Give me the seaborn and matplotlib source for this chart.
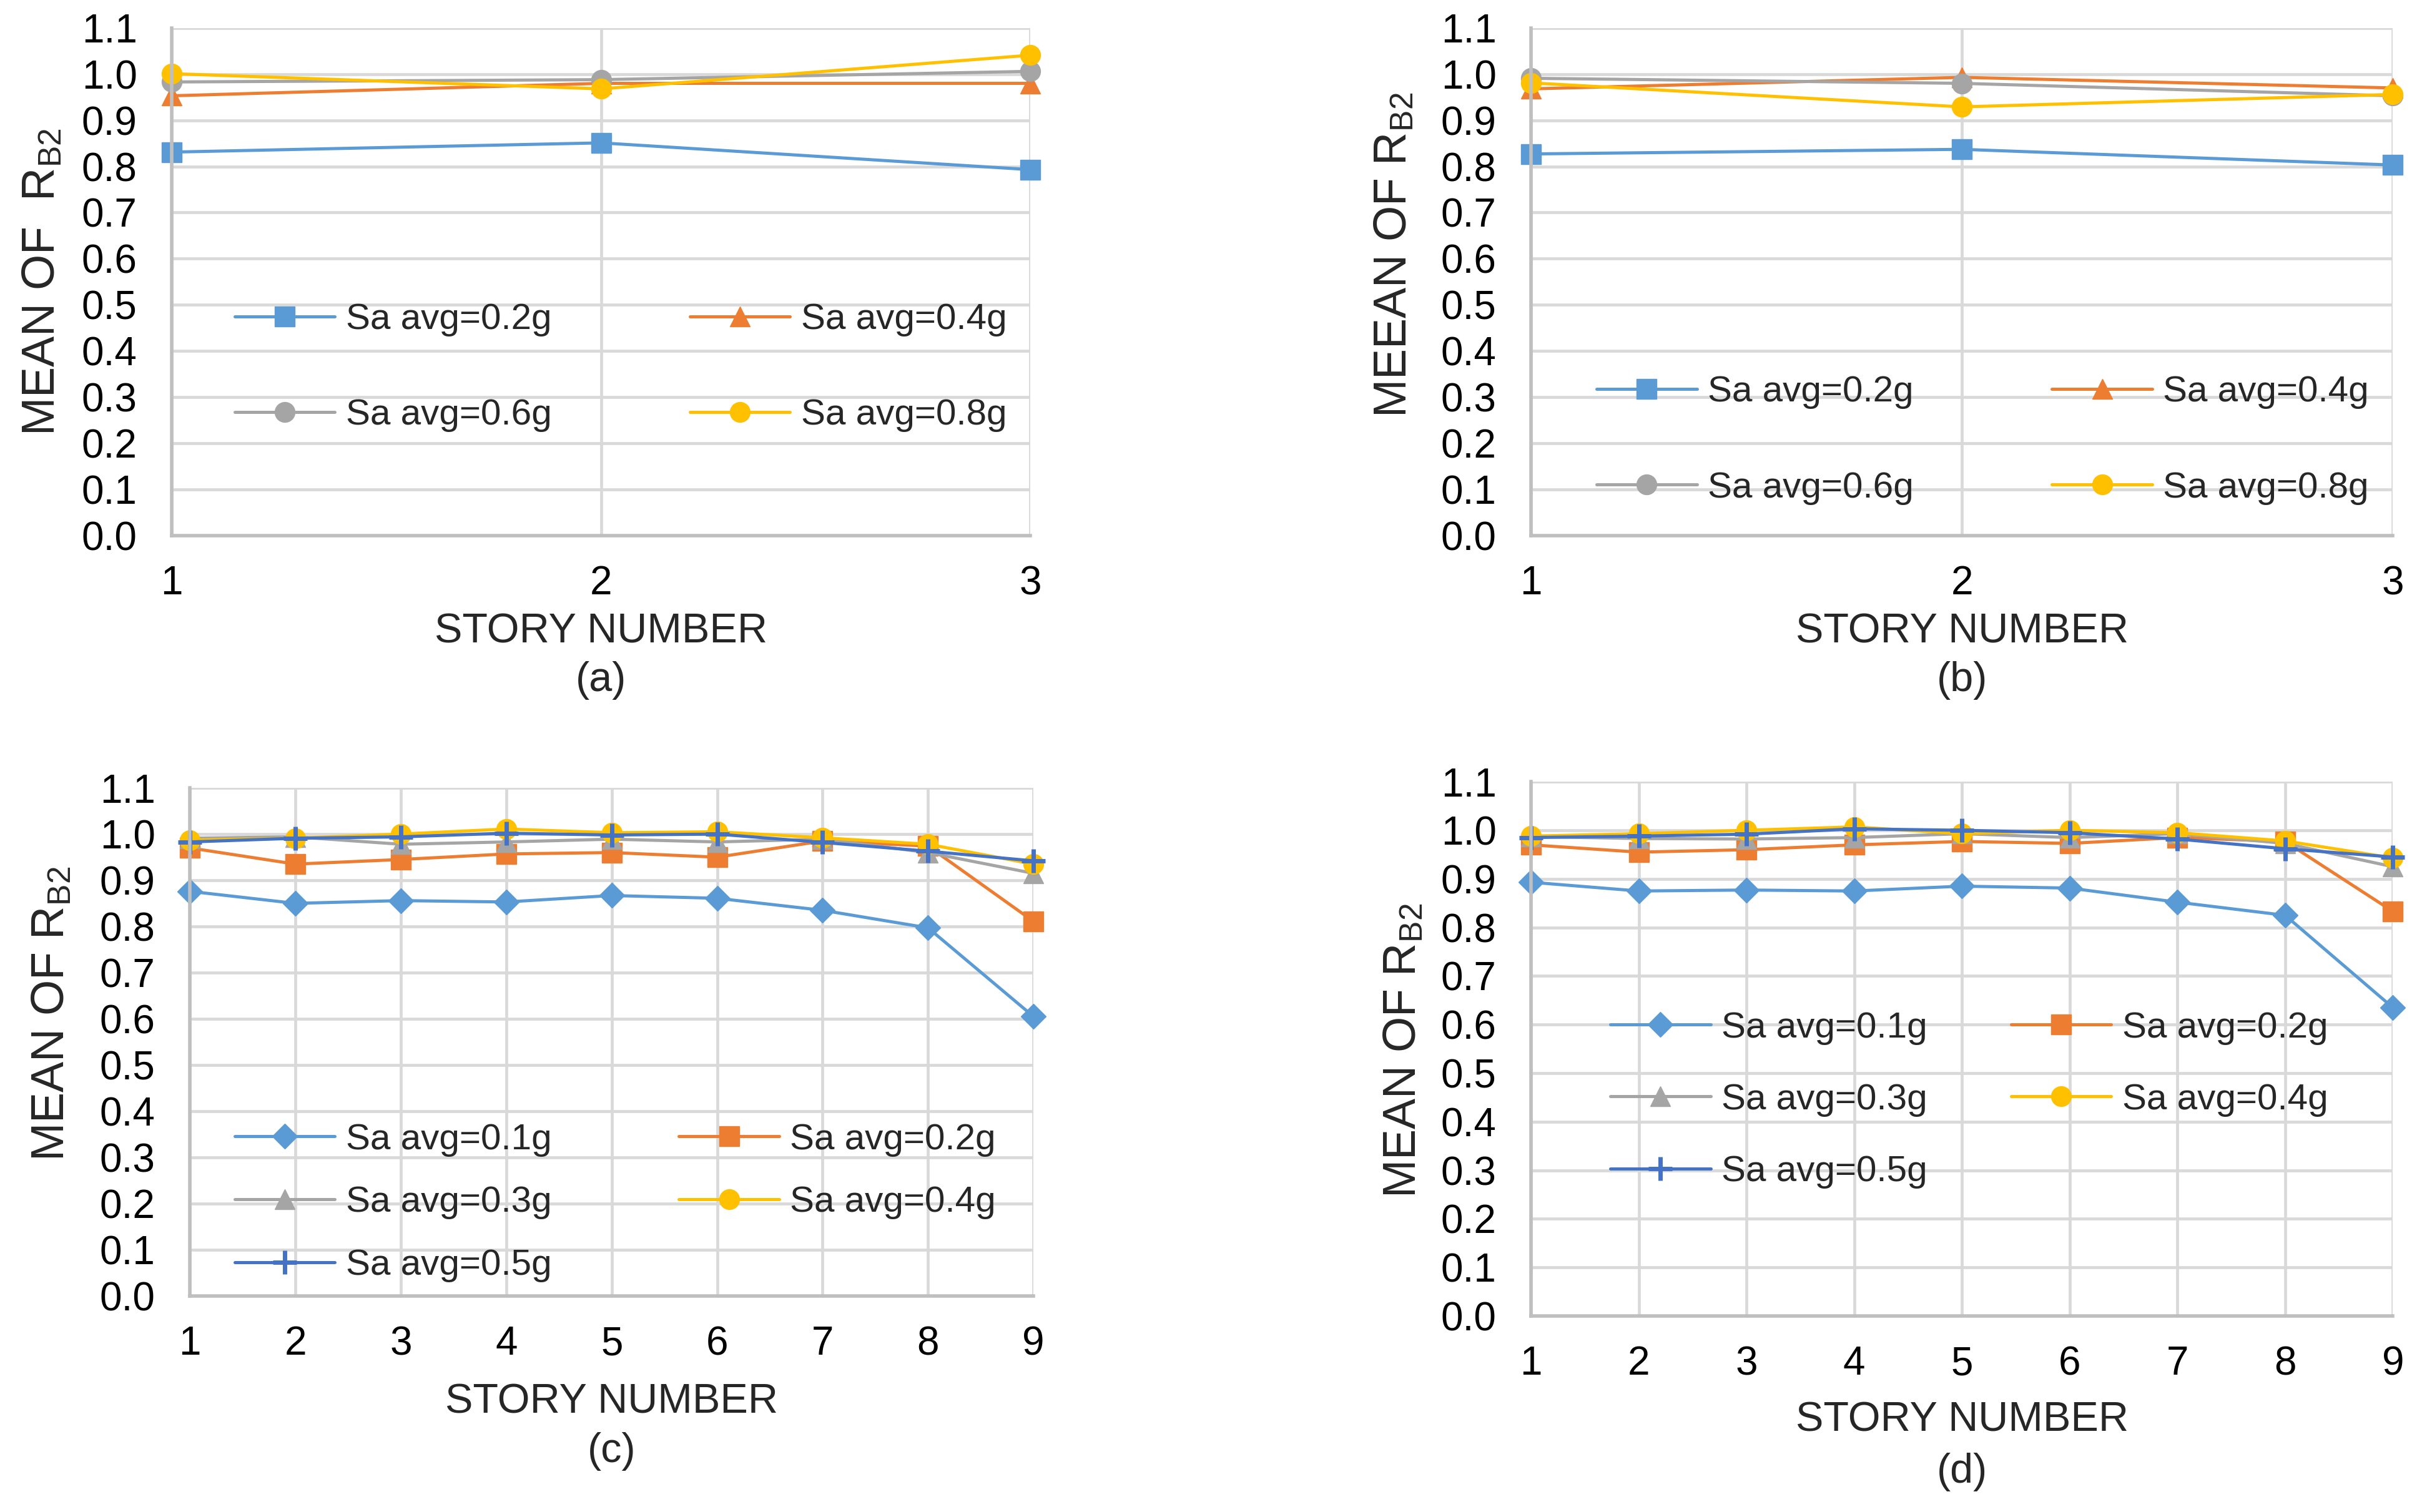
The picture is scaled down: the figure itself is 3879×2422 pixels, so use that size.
import numpy as np
import pandas as pd
import matplotlib
matplotlib.use("Agg")
import matplotlib.pyplot as plt
import seaborn as sns

# ── Données ─────────────────────────────────────────────────────────────
stories_3 = [1, 2, 3]
stories_9 = [1, 2, 3, 4, 5, 6, 7, 8, 9]

a_labels = ['Sa avg=0.2g', 'Sa avg=0.4g', 'Sa avg=0.6g', 'Sa avg=0.8g']
a_02 = [0.831, 0.851, 0.793]
a_04 = [0.953, 0.980, 0.980]
a_06 = [0.983, 0.988, 1.006]
a_08 = [1.001, 0.968, 1.041]

b_labels = ['Sa avg=0.2g', 'Sa avg=0.4g', 'Sa avg=0.6g', 'Sa avg=0.8g']
b_02 = [0.827, 0.837, 0.803]
b_04 = [0.968, 0.993, 0.970]
b_06 = [0.991, 0.980, 0.953]
b_08 = [0.981, 0.929, 0.956]

c_labels = ['Sa avg=0.1g', 'Sa avg=0.2g', 'Sa avg=0.3g', 'Sa avg=0.4g', 'Sa avg=0.5g']
c_01 = [0.876, 0.850, 0.856, 0.853, 0.867, 0.861, 0.835, 0.797, 0.605]
c_02 = [0.970, 0.935, 0.945, 0.957, 0.960, 0.950, 0.985, 0.974, 0.811]
c_03 = [0.991, 0.994, 0.978, 0.983, 0.989, 0.983, 0.989, 0.960, 0.915]
c_04 = [0.987, 0.991, 1.000, 1.011, 1.003, 1.005, 0.992, 0.978, 0.935]
c_05 = [0.983, 0.991, 0.994, 1.002, 0.998, 1.000, 0.982, 0.963, 0.942]

d_labels = ['Sa avg=0.1g', 'Sa avg=0.2g', 'Sa avg=0.3g', 'Sa avg=0.4g', 'Sa avg=0.5g']
d_01 = [0.893, 0.875, 0.877, 0.875, 0.885, 0.881, 0.852, 0.825, 0.635]
d_02 = [0.970, 0.955, 0.960, 0.970, 0.977, 0.973, 0.985, 0.977, 0.833]
d_03 = [0.987, 0.983, 0.982, 0.985, 0.993, 0.985, 0.993, 0.973, 0.925]
d_04 = [0.988, 0.993, 1.000, 1.007, 0.993, 1.000, 0.995, 0.978, 0.943]
d_05 = [0.985, 0.988, 0.992, 1.003, 1.000, 0.995, 0.982, 0.962, 0.945]

y_ticks = [0.0, 0.1, 0.2, 0.3, 0.4, 0.5, 0.6, 0.7, 0.8, 0.9, 1.0, 1.1]

# ── Style ───────────────────────────────────────────────────────────────
sns.set_theme(style="white")
plt.rcParams['font.family'] = ['Liberation Sans', 'DejaVu Sans']
plt.rcParams['mathtext.fontset'] = 'custom'
plt.rcParams['mathtext.rm'] = 'Liberation Sans'
plt.rcParams['mathtext.it'] = 'Liberation Sans'

BLEU, ORANGE, GRIS, JAUNE, BLEU_F = '#5B9BD5', '#ED7D31', '#A5A5A5', '#FFC000', '#4472C4'

fig = plt.figure(figsize=(38.8, 24.22), dpi=100)

panneaux = [
    dict(pos=[0.0709, 0.6458, 0.3544, 0.3357], x=stories_3,
         series=[a_02, a_04, a_06, a_08], labels=a_labels,
         colors=[BLEU, ORANGE, GRIS, JAUNE], markers=['s', '^', 'o', 'o'],
         ylabel='MEAN OF  R$_{\\mathrm{B2}}$', ylab_xy=(-0.126, 0.5),
         leg=dict(anchor=(0.035, 0.523), spacing=1.7, col=3.8), cap='(a)',
         xlab_y=-0.19, cap_y=-0.285),
    dict(pos=[0.632, 0.6458, 0.3557, 0.3357], x=stories_3,
         series=[b_02, b_04, b_06, b_08], labels=b_labels,
         colors=[BLEU, ORANGE, GRIS, JAUNE], markers=['s', '^', 'o', 'o'],
         ylabel='MEEAN OF R$_{\\mathrm{B2}}$', ylab_xy=(-0.134, 0.553),
         leg=dict(anchor=(0.038, 0.38), spacing=1.7, col=3.8), cap='(b)',
         xlab_y=-0.19, cap_y=-0.285),
    dict(pos=[0.0784, 0.1429, 0.3482, 0.336], x=stories_9,
         series=[c_01, c_02, c_03, c_04, c_05], labels=c_labels,
         colors=[BLEU, ORANGE, GRIS, JAUNE, BLEU_F], markers=['D', 's', '^', 'o', '+'],
         ylabel='MEAN OF R$_{\\mathrm{B2}}$', ylab_xy=(-0.138, 0.555),
         leg=dict(anchor=(0.014, 0.405), spacing=0.8, col=3.5), cap='(c)',
         xlab_y=-0.21, cap_y=-0.306),
    dict(pos=[0.632, 0.1296, 0.3557, 0.3534], x=stories_9,
         series=[d_01, d_02, d_03, d_04, d_05], labels=d_labels,
         colors=[BLEU, ORANGE, GRIS, JAUNE, BLEU_F], markers=['D', 's', '^', 'o', '+'],
         ylabel='MEAN OF R$_{\\mathrm{B2}}$', ylab_xy=(-0.123, 0.497),
         leg=dict(anchor=(0.054, 0.632), spacing=1.05, col=2.3), cap='(d)',
         xlab_y=-0.196, cap_y=-0.292),
]

for p in panneaux:
    ax = fig.add_axes(p['pos'])
    for vals, lab, col, mk in zip(p['series'], p['labels'], p['colors'], p['markers']):
        ms = {'D': 20, '+': 28}.get(mk, 23)
        sns.lineplot(x=p['x'], y=vals, ax=ax, color=col, label=lab, lw=3.6,
                     marker=mk, markersize=ms, markeredgecolor=col,
                     markeredgewidth=5 if mk == '+' else 1, clip_on=False)

    ax.set_xlim(p['x'][0], p['x'][-1])
    ax.set_ylim(0, 1.1)
    ax.set_xticks(p['x'])
    ax.set_yticks(y_ticks)
    ax.set_yticklabels([f'{v:.1f}' for v in y_ticks])
    ax.grid(True, color='#D9D9D9', lw=3.4)
    ax.set_axisbelow(True)
    for s in ['top', 'right']:
        ax.spines[s].set_visible(False)
    for s in ['left', 'bottom']:
        ax.spines[s].set_color('#BFBFBF')
        ax.spines[s].set_linewidth(4)
    ax.tick_params(axis='both', length=0, labelsize=46, colors='black')
    ax.tick_params(axis='y', pad=40)
    ax.tick_params(axis='x', pad=34)

    ax.set_xlabel('STORY NUMBER', fontsize=48)
    ax.xaxis.set_label_coords(0.5, p['xlab_y'])
    ax.xaxis.label.set_va('center')
    ax.set_ylabel(p['ylabel'], fontsize=53)
    ax.yaxis.set_label_coords(*p['ylab_xy'])
    ax.text(0.5, p['cap_y'], p['cap'], transform=ax.transAxes,
            ha='center', va='center', fontsize=48)

    # légende remplie ligne par ligne comme dans Excel
    handles, labels = ax.get_legend_handles_labels()
    ordre = list(range(0, len(handles), 2)) + list(range(1, len(handles), 2))
    ax.legend([handles[i] for i in ordre], [labels[i] for i in ordre],
              loc='upper left', bbox_to_anchor=p['leg']['anchor'], ncol=2,
              frameon=False, fontsize=42, handlelength=2.75, handletextpad=0.3,
              columnspacing=p['leg']['col'], labelspacing=p['leg']['spacing'])

fig.savefig('out.png', dpi=100)
